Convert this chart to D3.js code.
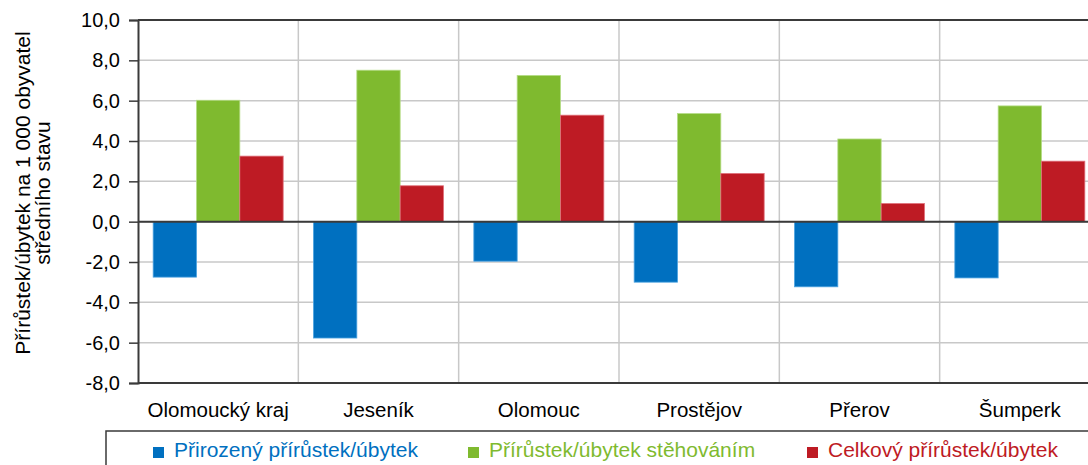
<!DOCTYPE html>
<html>
<head>
<meta charset="utf-8">
<script src="https://cdn.jsdelivr.net/npm/d3@7"></script>
<style>
  body { margin: 0; background: #fff; }
  svg { display: block; font-family: "Liberation Sans", Arial, sans-serif; }
</style>
</head>
<body>
<svg class="root"></svg>
<script>
// data
var categories = ["Olomoucký kraj", "Jeseník", "Olomouc", "Prostějov", "Přerov", "Šumperk"];
var seriesNames = ["Přirozený přírůstek/úbytek", "Přírůstek/úbytek stěhováním", "Celkový přírůstek/úbytek"];
var natural   = [-2.75, -5.77, -1.96, -3.00, -3.23, -2.79];
var migration = [ 6.02,  7.51,  7.25,  5.36,  4.10,  5.74];
var total     = [ 3.25,  1.78,  5.28,  2.39,  0.90,  3.00];
var yTicks = [-8, -6, -4, -2, 0, 2, 4, 6, 8, 10];
var yTitle = ["Přírůstek/úbytek na 1 000 obyvatel", "středního stavu"];

var series = [natural, migration, total];
var colors = ["#0070c0", "#7fba2f", "#be1b24"];
var edges  = ["#4da3e0", "#b5dc85", "#e0707a"];

var width = 1088, height = 465;
var margin = {top: 20, left: 138, bottom: 82, right: -12};

var svg = d3.select(".root")
    .attr("width", width)
    .attr("height", height);

var y = d3.scaleLinear()
    .domain([-8, 10])
    .range([height - margin.bottom, margin.top]);

var x0 = d3.scaleBand()
    .domain(categories)
    .range([margin.left, width - margin.right])
    .padding(0);

var x1 = d3.scaleBand()
    .domain([0, 1, 2])
    .range([0, x0.bandwidth()])
    .paddingInner(0)
    .paddingOuter(0.35);

var fmt = function(d) { return (d < 0 ? "-" : "") + Math.abs(d).toFixed(1).replace(".", ","); };

// horizontal grid
svg.append("g")
  .selectAll("line")
  .data(yTicks)
  .enter().append("line")
    .attr("x1", margin.left)
    .attr("x2", width - margin.right)
    .attr("y1", function(d) { return y(d); })
    .attr("y2", function(d) { return y(d); })
    .attr("stroke", "#c8c8c8")
    .attr("stroke-width", 1.5);

// vertical grid between categories
svg.append("g")
  .selectAll("line")
  .data(categories.slice(1))
  .enter().append("line")
    .attr("x1", function(d) { return x0(d); })
    .attr("x2", function(d) { return x0(d); })
    .attr("y1", y(10))
    .attr("y2", y(-8))
    .attr("stroke", "#c8c8c8")
    .attr("stroke-width", 1.5);

// bars
var groups = svg.append("g")
  .selectAll("g")
  .data(categories)
  .enter().append("g")
    .attr("transform", function(d) { return "translate(" + x0(d) + ",0)"; });

groups.selectAll("rect")
  .data(function(d, i) { return series.map(function(s, j) { return {k: j, v: s[i]}; }); })
  .enter().append("rect")
    .attr("x", function(d) { return x1(d.k); })
    .attr("width", x1.bandwidth())
    .attr("y", function(d) { return y(Math.max(0, d.v)); })
    .attr("height", function(d) { return Math.abs(y(d.v) - y(0)); })
    .attr("fill", function(d) { return colors[d.k]; })
    .attr("stroke", function(d) { return edges[d.k]; })
    .attr("stroke-width", 0.8);

// axis lines: top, bottom, zero
[10, -8, 0].forEach(function(v) {
  svg.append("line")
    .attr("x1", margin.left).attr("x2", width - margin.right)
    .attr("y1", y(v)).attr("y2", y(v))
    .attr("stroke", "#3a3a3a")
    .attr("stroke-width", 2);
});

// y axis
var yAxis = d3.axisLeft(y).tickValues(yTicks).tickFormat(fmt).tickSize(9).tickPadding(9);
var gy = svg.append("g")
    .attr("transform", "translate(" + margin.left + ",0)")
    .call(yAxis);
gy.select(".domain").attr("stroke", "#3a3a3a").attr("stroke-width", 2);
gy.selectAll(".tick line").attr("stroke", "#3a3a3a").attr("stroke-width", 1.5);
gy.selectAll(".tick text")
    .attr("font-size", 20)
    .attr("fill", "#000")
    .style("font-family", "'Liberation Sans', Arial, sans-serif");

// category labels
svg.append("g")
  .selectAll("text")
  .data(categories)
  .enter().append("text")
    .attr("x", function(d) { return x0(d) + x0.bandwidth() / 2; })
    .attr("y", y(-8) + 34)
    .attr("text-anchor", "middle")
    .attr("font-size", 20.5)
    .attr("fill", "#000")
    .text(function(d) { return d; });

// y title
svg.append("text")
    .attr("transform", "translate(30," + 193 + ")rotate(-90)")
    .attr("text-anchor", "middle")
    .attr("font-size", 21)
    .attr("fill", "#000")
  .selectAll("tspan")
  .data(yTitle)
  .enter().append("tspan")
    .attr("x", 0)
    .attr("dy", function(d, i) { return i === 0 ? 0 : 20; })
    .text(function(d) { return d; });

// legend
svg.append("rect")
    .attr("x", 106)
    .attr("y", 431)
    .attr("width", 1100)
    .attr("height", 60)
    .attr("fill", "none")
    .attr("stroke", "#3a3a3a")
    .attr("stroke-width", 1.5);

var legendX = [153, 468, 807];
var legend = svg.append("g")
  .selectAll("g")
  .data(seriesNames)
  .enter().append("g")
    .attr("transform", function(d, i) { return "translate(" + legendX[i] + ",447)"; });

legend.append("rect")
    .attr("width", 11)
    .attr("height", 11)
    .attr("fill", function(d, i) { return colors[i]; });

legend.append("text")
    .attr("x", 21)
    .attr("y", 10)
    .attr("font-size", 21)
    .attr("fill", function(d, i) { return colors[i]; })
    .text(function(d) { return d; });
</script>
</body>
</html>
